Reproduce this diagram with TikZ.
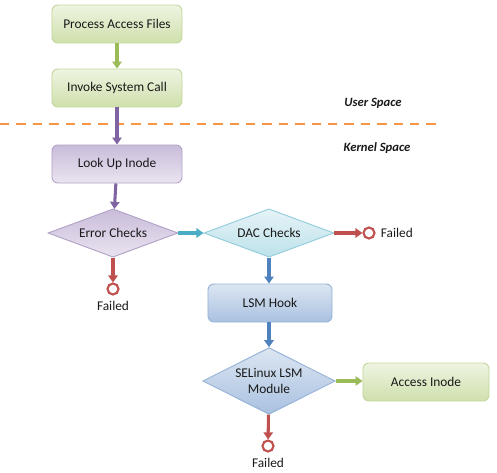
\documentclass[tikz,border=0pt]{standalone}
\usepackage{fontspec}
\setmainfont{Carlito}
\usepackage{tikz}
\usetikzlibrary{arrows.meta, shapes.geometric, positioning}

\definecolor{grnline}{HTML}{C3D69B}
\definecolor{grnlight}{HTML}{EEF4E2}
\definecolor{grndark}{HTML}{CFE0AC}
\definecolor{grnarrow}{HTML}{9BBB59}
\definecolor{purline}{HTML}{B3A2C7}
\definecolor{purlight}{HTML}{EAE4F0}
\definecolor{purdark}{HTML}{C9BCDA}
\definecolor{purarrow}{HTML}{8064A2}
\definecolor{tealline}{HTML}{93CDDD}
\definecolor{teallight}{HTML}{E6F3F7}
\definecolor{tealdark}{HTML}{BDE2EA}
\definecolor{tealarrow}{HTML}{4BACC6}
\definecolor{bluline}{HTML}{95B3D7}
\definecolor{blulight}{HTML}{DCE6F2}
\definecolor{bludark}{HTML}{A9C1E0}
\definecolor{bluarrow}{HTML}{4F81BD}
\definecolor{failred}{HTML}{C0504D}
\definecolor{dashorange}{HTML}{F79646}

\tikzset{
	txt/.style={font=\fontsize{11.4pt}{13.5pt}\selectfont, text=black!90},
	box/.style={txt, rectangle, rounded corners=5pt, line width=0.8pt, minimum width=3.9cm, minimum height=1.14cm},
	dec/.style={txt, diamond, aspect=2.6, inner sep=0pt, line width=0.8pt, minimum width=3.9cm, minimum height=1.45cm, align=center},
	greenbox/.style={box, draw=grnline, top color=grnlight, bottom color=grndark},
	purbox/.style={box, draw=purline, top color=purdark, bottom color=purlight},
	blubox/.style={box, draw=bluline, top color=blulight, bottom color=bludark},
	flow/.style={line width=2.6pt, -{Triangle[length=6pt,width=8pt]}},
	failed/.style={circle, draw=failred, line width=1.8pt, fill=white, minimum size=0.33cm, inner sep=0pt},
	space/.style={font=\fontsize{10.8pt}{12pt}\selectfont\bfseries\itshape, text=black!90}
}

\begin{document}
\begin{tikzpicture}[x=0.03cm, y=-0.03cm]
	\useasboundingbox (0,0) rectangle (497,473);

	\node[greenbox] (paf) at (117,24) {Process Access Files};
	\node[greenbox] (isc) at (117,88) {Invoke System Call};
	\node[purbox] (lui) at (117,164) {Look Up Inode};
	\node[dec, draw=purline, top color=purdark, bottom color=purlight] (ec) at (113,233) {Error Checks};
	\node[dec, draw=tealline, top color=teallight, bottom color=tealdark] (dac) at (269,233) {DAC Checks};
	\node[blubox, minimum width=3.72cm] (lsm) at (270,303) {LSM Hook};
	\node[dec, draw=bluline, top color=blulight, bottom color=bludark, minimum height=2cm] (sel) at (269,381) {SELinux LSM\\Module};
	\node[greenbox, minimum width=3.78cm] (ai) at (426,382) {Access Inode};

	\node[failed, label={[txt, label distance=1pt]below:Failed}] (f1) at (113,289) {};
	\node[failed, label={[txt, label distance=1pt]right:Failed}] (f2) at (369,233) {};
	\node[failed, label={[txt, label distance=1pt]below:Failed}] (f3) at (268,446) {};

	\coordinate (dl) at (0,124);
	\coordinate (dr) at (438,124);
	\draw[dashorange, line width=1.6pt, dash pattern=on 8pt off 6pt] (dl) -- (dr);
	\node[space] (us) at (373,103) {User Space};
	\node[space] (ks) at (377,148) {Kernel Space};

	\draw[flow, grnarrow] (paf) -- (isc);
	\draw[flow, purarrow] (isc) -- (lui);
	\draw[flow, purarrow] (lui) -- (ec);
	\draw[flow, tealarrow] (ec) -- (dac);
	\draw[flow, failred] (ec) -- (f1);
	\draw[flow, failred] (dac) -- (f2);
	\draw[flow, bluarrow] (dac) -- (lsm.north -| dac);
	\draw[flow, bluarrow] (lsm.south -| sel) -- (sel);
	\draw[flow, grnarrow] (sel) -- (sel -| ai.west);
	\draw[flow, failred] (sel) -- (f3);
\end{tikzpicture}
\end{document}
